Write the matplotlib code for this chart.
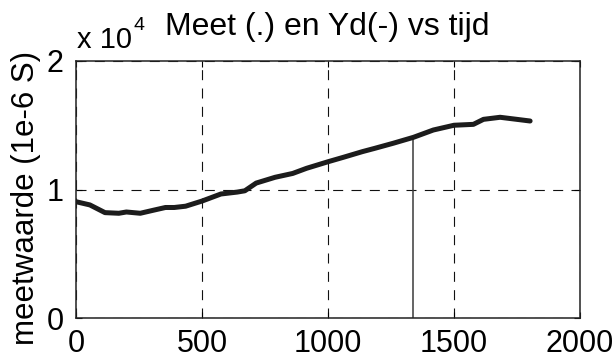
import matplotlib
matplotlib.use('agg')
import matplotlib.pyplot as plt

# meetwaarden (1e-6 S) tegen tijd
tijd = [0, 55, 115, 170, 200, 255, 310, 355, 390, 435, 500, 575, 640, 670, 715,
        790, 860, 915, 1000, 1060, 1137, 1185, 1259, 1339, 1418, 1500, 1577, 1617,
        1683, 1749, 1802]
meet = [9050, 8800, 8200, 8150, 8250, 8150, 8400, 8600, 8600, 8700, 9100, 9650,
        9800, 9900, 10500, 10950, 11250, 11650, 12160, 12500, 12950, 13200, 13600,
        14060, 14630, 15000, 15070, 15460, 15620, 15460, 15330]
stem_x = 1339
stem_y = 14060

xticks = [0, 500, 1000, 1500, 2000]
yticks = [0, 10000, 20000]
ytick_labels = ['0', '1', '2']

plt.rcParams['font.family'] = ['Liberation Sans', 'DejaVu Sans']

W, H = 616, 362
fig = plt.figure(figsize=(W / 100, H / 100), dpi=100)
ax = fig.add_axes([76 / W, 1 - 318 / H, 504 / W, 257 / H])

ax.plot(tijd, meet, color='#1c1c1c', linewidth=3.6, solid_capstyle='round',
        solid_joinstyle='round', zorder=3)
ax.vlines(stem_x, 0, stem_y, color='#3a3a3a', linewidth=1.1, zorder=2)

ax.set_xlim(0, 2000)
ax.set_ylim(0, 20000)
ax.set_xticks(xticks)
ax.set_yticks(yticks)
ax.set_yticklabels(ytick_labels)
ax.tick_params(direction='in', length=4, width=0.8, labelsize=22,
               top=True, right=True)
ax.tick_params(axis='x', pad=8)
ax.tick_params(axis='y', pad=9)
ax.grid(True, color='#111111', linestyle=(0, (9, 7.5)), linewidth=0.8)
for s in ax.spines.values():
    s.set_linewidth(1.1)
    s.set_color('#222222')

# titel, as-label en schaalfactor
fig.text(327.5 / W, 1 - 35 / H, 'Meet (.) en Yd(-) vs tijd', fontsize=23,
         ha='center', va='baseline')
fig.text(26 / W, 1 - 198 / H, 'meetwaarde (1e-6 S)', fontsize=22.5,
         rotation=90, ha='center', va='center')
fig.text(77 / W, 1 - 48 / H, 'x 10', fontsize=21, ha='left', va='baseline')
fig.text(134 / W, 1 - 30 / H, '4', fontsize=14, ha='left', va='baseline')

fig.savefig('out.png', dpi=100)
